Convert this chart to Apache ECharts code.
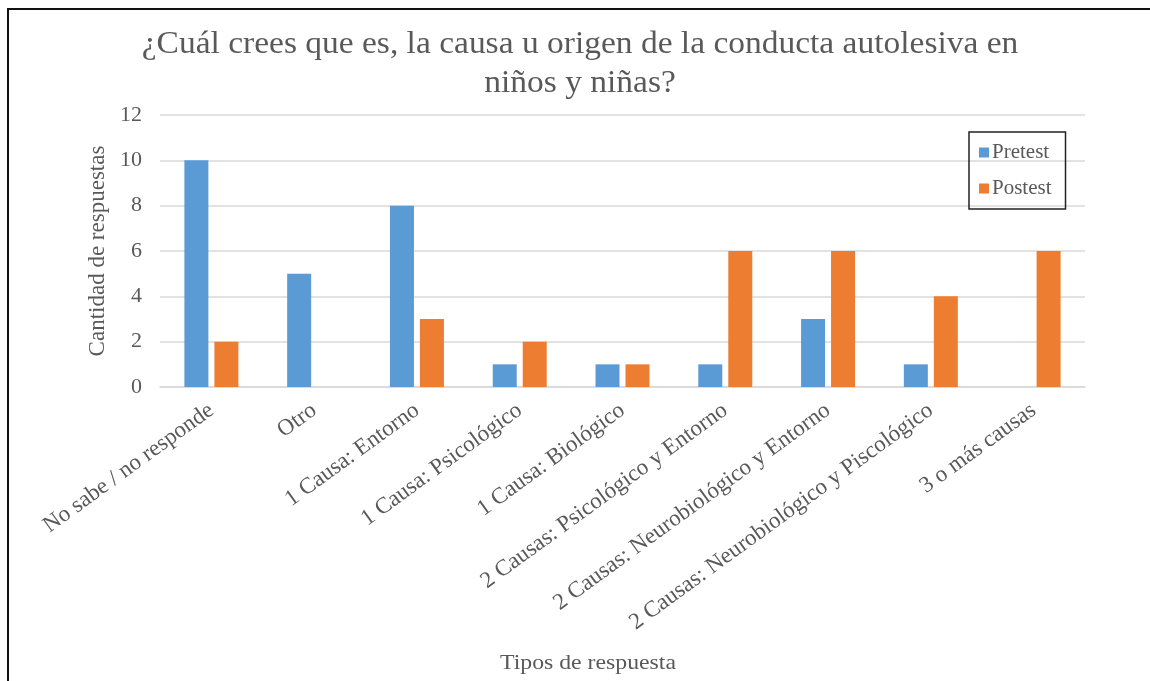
<!DOCTYPE html>
<html>
<head>
<meta charset="utf-8">
<script src="https://cdn.jsdelivr.net/npm/echarts@6/dist/echarts.min.js"></script>
<style>
html,body{margin:0;padding:0;background:#fff;}
#chart{width:1150px;height:681px;}
</style>
</head>
<body>
<div id="chart"></div>
<script>
const titleLines = [
  "¿Cuál crees que es, la causa u origen de la conducta autolesiva en",
  "niños y niñas?"
];
const xAxisTitle = "Tipos de respuesta";
const yAxisTitle = "Cantidad de respuestas";
const categories = [
  "No sabe / no responde",
  "Otro",
  "1 Causa: Entorno",
  "1 Causa: Psicológico",
  "1 Causa: Biológico",
  "2 Causas: Psicológico y Entorno",
  "2 Causas: Neurobiológico y Entorno",
  "2 Causas: Neurobiológico y Piscológico",
  "3 o más causas"
];
const pretest = [10, 5, 8, 1, 1, 1, 3, 1, 0];
const postest = [2, 0, 3, 2, 1, 6, 6, 4, 6];
const seriesNames = ["Pretest", "Postest"];
const yTicks = { min: 0, max: 12, interval: 2 };

const font = "'Liberation Serif', 'DejaVu Serif', serif";
const textColor = "#595959";

const chart = echarts.init(document.getElementById('chart'));
chart.setOption({
  backgroundColor: '#ffffff',
  animation: false,
  legend: {
    data: seriesNames,
    orient: 'vertical',
    left: 969,
    top: 132,
    itemWidth: 10,
    itemHeight: 10,
    itemGap: 15,
    padding: [10, 14, 10, 10],
    borderColor: '#222',
    borderWidth: 1.5,
    icon: 'rect',
    textStyle: { fontFamily: font, fontSize: 21, color: textColor, padding: [0, 0, 0, -2] }
  },
  grid: { left: 160, right: 65, top: 115, bottom: 294, containLabel: false },
  xAxis: {
    type: 'category',
    data: categories,
    axisLine: { lineStyle: { color: '#d9d9d9', width: 1.5 } },
    axisTick: { show: false },
    axisLabel: {
      interval: 0,
      rotate: 36,
      margin: 21,
      fontFamily: font,
      fontSize: 23,
      color: textColor
    }
  },
  yAxis: {
    type: 'value',
    min: yTicks.min,
    max: yTicks.max,
    interval: yTicks.interval,
    name: yAxisTitle,
    nameLocation: 'middle',
    nameGap: 51,
    nameRotate: 90,
    nameTextStyle: { fontFamily: font, fontSize: 23, color: textColor },
    axisLine: { show: false },
    axisTick: { show: false },
    axisLabel: { margin: 18, fontFamily: font, fontSize: 22, color: textColor },
    splitLine: { lineStyle: { color: '#d9d9d9', width: 1.5 } }
  },
  series: [
    {
      name: seriesNames[0],
      type: 'bar',
      data: pretest,
      barWidth: 24,
      barGap: '25%',
      itemStyle: { color: '#5B9BD5' }
    },
    {
      name: seriesNames[1],
      type: 'bar',
      data: postest,
      barWidth: 24,
      itemStyle: { color: '#ED7D31' }
    }
  ],
  graphic: [
    {
      type: 'text',
      x: 580,
      y: 29,
      scaleX: 1.08,
      style: {
        text: titleLines[0],
        textAlign: 'center',
        textVerticalAlign: 'top',
        fontFamily: font,
        fontSize: 31,
        fill: textColor
      }
    },
    {
      type: 'text',
      x: 580,
      y: 68,
      scaleX: 1.08,
      style: {
        text: titleLines[1],
        textAlign: 'center',
        textVerticalAlign: 'top',
        fontFamily: font,
        fontSize: 31,
        fill: textColor
      }
    },
    {
      type: 'text',
      x: 588,
      y: 652,
      scaleX: 1.08,
      style: {
        text: xAxisTitle,
        textAlign: 'center',
        textVerticalAlign: 'top',
        fontFamily: font,
        fontSize: 22,
        fill: textColor
      }
    },
    {
      type: 'rect',
      shape: { x: 8, y: 9, width: 1160, height: 700 },
      style: { fill: 'none', stroke: '#111', lineWidth: 2 },
      silent: true
    }
  ]
});
</script>
</body>
</html>
